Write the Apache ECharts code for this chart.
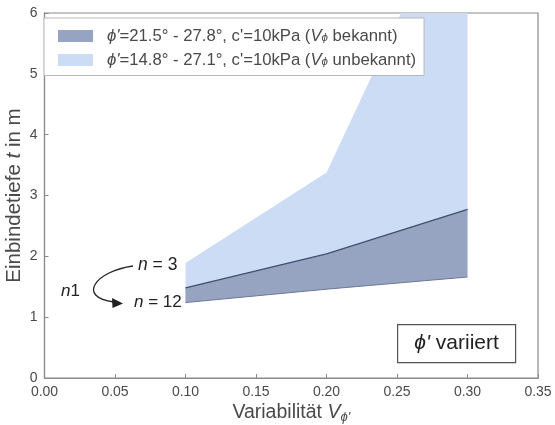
<!DOCTYPE html>
<html>
<head>
<meta charset="utf-8">
<script src="https://cdn.jsdelivr.net/npm/echarts@6/dist/echarts.min.js"></script>
<style>
  html, body { margin: 0; padding: 0; background: #fff; }
  #chart { width: 555px; height: 425px; }
</style>
</head>
<body>
<div id="chart"></div>
<script>
// Variability of phi' (x) vs. required embedment depth t in m (y)
const xTicks = ['0.00', '0.05', '0.10', '0.15', '0.20', '0.25', '0.30', '0.35'];
const yTicks = ['0', '1', '2', '3', '4', '5', '6'];

// Band with V known: upper edge (n = 3) and lower edge (n = 12)
const knownX     = [0.10, 0.20, 0.30];
const knownUpper = [1.48, 2.04, 2.77];
const knownLower = [1.24, 1.46, 1.66];

// Band with V unknown: upper edge (runs past the top of the plot near 0.25)
const unknownX     = [0.10, 0.20, 0.25, 0.30];
const unknownUpper = [1.89, 3.38, 5.85, 8.50];

const legendNames = [
  "ϕ'=21.5° - 27.8°, c'=10kPa (V_ϕ bekannt)",
  "ϕ'=14.8° - 27.1°, c'=10kPa (V_ϕ unbekannt)"
];

const pairs = (xs, ys) => xs.map((x, i) => [x, ys[i]]);

const FONT = '"Liberation Sans", Arial, sans-serif';
const TXT = '#4a4a4a';
const AX = '#8a8a8a';
const DARK = '#96a4c2';
const LIGHT = '#ccdcf5';

// Closed outline of a band: upper edge left to right, lower edge back
function bandOutline(upper, lower) {
  return upper.concat(lower.slice().reverse());
}
const knownBand   = bandOutline(pairs(knownX, knownUpper), pairs(knownX, knownLower));
const unknownBand = bandOutline(pairs(unknownX, unknownUpper), pairs(knownX, knownLower));

function bandSeries(name, outline, color, z) {
  return {
    name, type: 'custom', z,
    itemStyle: { color },
    data: [0],
    renderItem: (params, api) => {
      const pts = outline.map((p) => api.coord(p));
      const cs = params.coordSys;
      return {
        type: 'polygon',
        shape: { points: pts },
        style: { fill: color, stroke: null },
        clipPath: { type: 'rect', shape: { x: cs.x, y: cs.y, width: cs.width, height: cs.height } }
      };
    }
  };
}

const chart = echarts.init(document.getElementById('chart'), null, { renderer: 'canvas' });

const legendFmt = (name) => {
  const m = name.match(/^ϕ'(.*)\(V_ϕ (.*)\)$/);
  return "{i|ϕ'}" + m[1] + '({i|V}{sub|ϕ} ' + m[2] + ')';
};

chart.setOption({
  animation: false,
  textStyle: { fontFamily: FONT },
  grid: {
    left: 44.5, right: 17, top: 13, bottom: 47,
    containLabel: false, outerBoundsMode: 'none',
    show: true, borderColor: AX, borderWidth: 1.2, backgroundColor: 'transparent'
  },
  xAxis: {
    type: 'value', min: 0, max: 0.35, interval: 0.05, z: 20,
    axisLine: { show: true, lineStyle: { color: AX, width: 1.2 } },
    axisTick: { show: true, inside: true, length: 4, lineStyle: { color: AX } },
    splitLine: { show: false },
    axisLabel: {
      color: TXT, fontSize: 14, margin: 7,
      formatter: (v) => xTicks[Math.round(v / 0.05)]
    },
    name: '{n|Variabilität }{v|V}{s|ϕ\'}',
    nameLocation: 'middle', nameGap: 23, nameMoveOverlap: false,
    nameTextStyle: {
      rich: {
        n: { fontSize: 19.5, color: TXT, fontFamily: FONT },
        v: { fontSize: 19.5, color: TXT, fontStyle: 'italic', fontFamily: FONT },
        s: { fontSize: 13, color: TXT, fontStyle: 'italic', verticalAlign: 'bottom', padding: [10, 0, 0, 0], fontFamily: FONT }
      }
    }
  },
  yAxis: {
    type: 'value', min: 0, max: 6, interval: 1, z: 20,
    axisLine: { show: true, lineStyle: { color: AX, width: 1.2 } },
    axisTick: { show: true, inside: true, length: 4, lineStyle: { color: AX } },
    splitLine: { show: false },
    axisLabel: { color: TXT, fontSize: 14, margin: 7, formatter: (v) => yTicks[v] },
    name: '{n|Einbindetiefe }{v|t}{n| in m}',
    nameLocation: 'middle', nameGap: 20, nameRotate: 90, nameMoveOverlap: false,
    nameTextStyle: {
      rich: {
        n: { fontSize: 20.5, color: TXT, fontFamily: FONT },
        v: { fontSize: 20.5, color: TXT, fontStyle: 'italic', fontFamily: FONT }
      }
    }
  },
  legend: {
    left: 44, top: 18, orient: 'vertical', z: 30,
    itemWidth: 35, itemHeight: 12, itemGap: 7, icon: 'rect',
    padding: [9.5, 8, 7, 14],
    backgroundColor: '#ffffff', borderColor: '#b8b8b8', borderWidth: 1,
    data: [
      { name: legendNames[0], itemStyle: { color: DARK } },
      { name: legendNames[1], itemStyle: { color: LIGHT } }
    ],
    formatter: legendFmt,
    textStyle: {
      color: TXT, fontSize: 16.7, lineHeight: 16.5, padding: [0, 0, 0, 9],
      rich: {
        i: { fontStyle: 'italic', fontSize: 16.7, color: TXT },
        sub: { fontSize: 11.5, fontStyle: 'italic', color: TXT, verticalAlign: 'bottom', padding: [7, 0, 0, 0] }
      }
    }
  },
  series: [
    bandSeries(legendNames[1], unknownBand, LIGHT, 2),
    bandSeries(legendNames[0], knownBand, DARK, 3),
    {
      // n = 3 edge of the V-known band
      name: 'n3', type: 'line', data: pairs(knownX, knownUpper),
      showSymbol: false, symbol: 'none', z: 4,
      lineStyle: { width: 1.3, color: '#3f4d70' }
    },
    {
      // n = 12 edge of the V-known band
      name: 'n12', type: 'line', data: pairs(knownX, knownLower),
      showSymbol: false, symbol: 'none', z: 4,
      lineStyle: { width: 1, color: '#6c7a98' }
    }
  ],
  graphic: [
    { type: 'text', z: 100, left: 138, top: 256, style: { text: '{i|n} = 3', rich: { i: { fontStyle: 'italic', fontSize: 17.5, fill: '#222' } }, fontSize: 17.5, fill: '#222', fontFamily: FONT } },
    { type: 'text', z: 100, left: 134, top: 294, style: { text: '{i|n} = 12', rich: { i: { fontStyle: 'italic', fontSize: 17, fill: '#222' } }, fontSize: 17, fill: '#222', fontFamily: FONT } },
    { type: 'text', z: 100, left: 61, top: 283, style: { text: '{i|n}1', rich: { i: { fontStyle: 'italic', fontSize: 17, fill: '#222' } }, fontSize: 17, fill: '#222', fontFamily: FONT } },
    {
      type: 'bezierCurve', z: 100,
      shape: { x1: 133, y1: 266, cpx1: 96, cpy1: 271, cpx2: 76, cpy2: 297, x2: 114, y2: 302 },
      style: { stroke: '#222', lineWidth: 1.3, fill: null }
    },
    {
      type: 'polygon', z: 100,
      shape: { points: [[123, 303.5], [112, 298], [112.5, 308]] },
      style: { fill: '#222' }
    },
    {
      type: 'group', z: 100, left: 397, top: 324,
      children: [
        { type: 'rect', z: 100, shape: { x: 0, y: 0, width: 118, height: 38 }, style: { fill: '#fff', stroke: '#555', lineWidth: 1.2 } },
        {
          type: 'text', z: 101, x: 59, y: 19,
          style: {
            text: "{i|ϕ'} variiert", align: 'center', verticalAlign: 'middle',
            fontSize: 21, fill: '#222', fontFamily: FONT,
            rich: { i: { fontStyle: 'italic', fontSize: 21, fill: '#222' } }
          }
        }
      ]
    }
  ]
});
</script>
</body>
</html>
